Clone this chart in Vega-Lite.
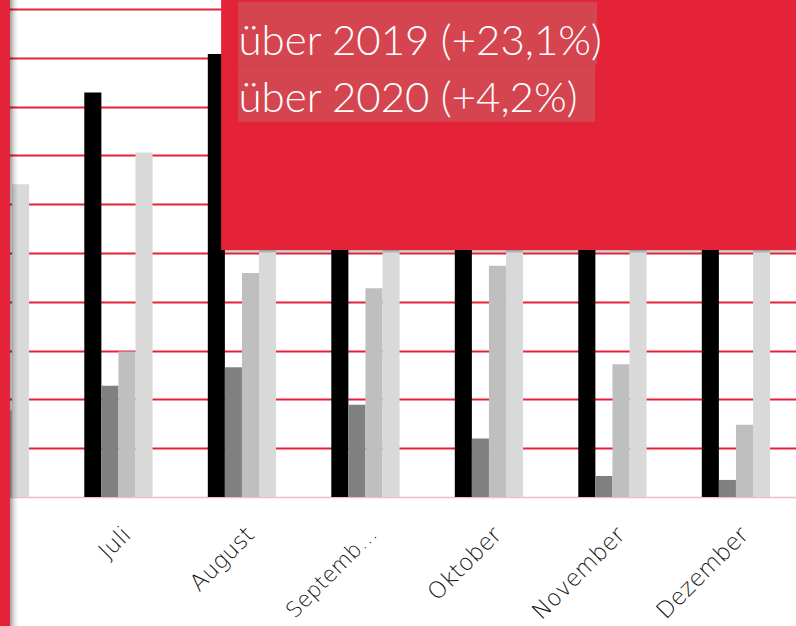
{
  "$schema": "https://vega.github.io/schema/vega-lite/v6.json",
  "width": 796,
  "height": 497,
  "autosize": {"type": "none"},
  "padding": {"left": 0, "top": 0, "right": 0, "bottom": 129},
  "background": "#ffffff",
  "config": {"view": {"stroke": null}},
  "data": {
    "values": [
      {"Monat": "Juni", "Jahr": "2022", "Wert": 78},
      {"Monat": "Juni", "Jahr": "2020", "Wert": 14},
      {"Monat": "Juni", "Jahr": "2021", "Wert": 17.8},
      {"Monat": "Juni", "Jahr": "2019", "Wert": 64.1},
      {"Monat": "Juli", "Jahr": "2022", "Wert": 82.9},
      {"Monat": "Juli", "Jahr": "2020", "Wert": 22.8},
      {"Monat": "Juli", "Jahr": "2021", "Wert": 29.8},
      {"Monat": "Juli", "Jahr": "2019", "Wert": 70.6},
      {"Monat": "August", "Jahr": "2022", "Wert": 90.8},
      {"Monat": "August", "Jahr": "2020", "Wert": 26.6},
      {"Monat": "August", "Jahr": "2021", "Wert": 45.9},
      {"Monat": "August", "Jahr": "2019", "Wert": 76},
      {"Monat": "September", "Jahr": "2022", "Wert": 86},
      {"Monat": "September", "Jahr": "2020", "Wert": 18.9},
      {"Monat": "September", "Jahr": "2021", "Wert": 42.8},
      {"Monat": "September", "Jahr": "2019", "Wert": 72},
      {"Monat": "Oktober", "Jahr": "2022", "Wert": 84},
      {"Monat": "Oktober", "Jahr": "2020", "Wert": 12.0},
      {"Monat": "Oktober", "Jahr": "2021", "Wert": 47.4},
      {"Monat": "Oktober", "Jahr": "2019", "Wert": 70},
      {"Monat": "November", "Jahr": "2022", "Wert": 80},
      {"Monat": "November", "Jahr": "2020", "Wert": 4.3},
      {"Monat": "November", "Jahr": "2021", "Wert": 27.2},
      {"Monat": "November", "Jahr": "2019", "Wert": 62},
      {"Monat": "Dezember", "Jahr": "2022", "Wert": 78},
      {"Monat": "Dezember", "Jahr": "2020", "Wert": 3.5},
      {"Monat": "Dezember", "Jahr": "2021", "Wert": 14.8},
      {"Monat": "Dezember", "Jahr": "2019", "Wert": 60}
    ]
  },
  "layer": [
    {
      "mark": {"type": "bar", "clip": true},
      "encoding": {
        "x": {
          "field": "Monat",
          "type": "nominal",
          "sort": null,
          "scale": {
            "domain": ["Juni", "Juli", "August", "September", "Oktober", "November", "Dezember", "Januar"],
            "range": [-39.2, 893.6],
            "paddingInner": 0.447,
            "paddingOuter": 0
          },
          "axis": {
            "title": null,
            "domain": false,
            "ticks": false,
            "labelAngle": -45,
            "labelAlign": "right",
            "labelBaseline": "top",
            "labelFont": "DejaVu Sans",
            "labelFontWeight": 200,
            "labelFontSize": {"condition": {"test": "datum.value == 'September'", "value": 21.5}, "value": 23},
            "labelColor": "#111111",
            "labelOffset": 1,
            "labelPadding": 26,
            "labelLimit": 0,
            "labelOverlap": false,
            "labelExpr": "datum.value == 'September' ? 'Septemb…' : (datum.value == 'Januar' ? '' : datum.label)"
          }
        },
        "xOffset": {
          "field": "Jahr",
          "type": "nominal",
          "scale": {"domain": ["2022", "2020", "2021", "2019"], "paddingInner": 0, "paddingOuter": 0}
        },
        "y": {
          "field": "Wert",
          "type": "quantitative",
          "scale": {"domain": [0, 101.844], "nice": false, "zero": true},
          "axis": {
            "title": null,
            "domain": false,
            "ticks": false,
            "labels": false,
            "grid": true,
            "values": [0, 10, 20, 30, 40, 50, 60, 70, 80, 90, 100],
            "gridColor": {"condition": {"test": "datum.value === 0", "value": "#F2BCC2"}, "value": "#E42338"},
            "gridWidth": {"condition": {"test": "datum.value === 0", "value": 1.5}, "value": 1.8}
          }
        },
        "y2": {"datum": 0},
        "color": {
          "field": "Jahr",
          "type": "nominal",
          "scale": {"domain": ["2022", "2020", "2021", "2019"], "range": ["#000000", "#808080", "#BFBFBF", "#D9D9D9"]},
          "legend": null
        }
      }
    },
    {
      "data": {"values": [{}]},
      "mark": {"type": "rect", "color": "#E42338"},
      "encoding": {
        "x": {"datum": "Juni", "bandPosition": 0},
        "x2": {"datum": "Juni", "bandPosition": 0.72},
        "y": {"datum": 101.844},
        "y2": {"datum": -26.44}
      }
    },
    {
      "data": {"values": [{}]},
      "mark": {
        "type": "rect",
        "color": {
          "gradient": "linear", "x1": 0, "x2": 1, "y1": 0, "y2": 0,
          "stops": [
            {"offset": 0, "color": "rgba(0,0,0,0.38)"},
            {"offset": 0.5, "color": "rgba(0,0,0,0.12)"},
            {"offset": 1, "color": "rgba(0,0,0,0)"}
          ]
        }
      },
      "encoding": {
        "x": {"datum": "Juni", "bandPosition": 0.72},
        "x2": {"datum": "Juni", "bandPosition": 0.84},
        "y": {"datum": 101.844},
        "y2": {"datum": -26.44}
      }
    },
    {
      "data": {"values": [{}]},
      "mark": {
        "type": "rect",
        "clip": true,
        "color": {
          "gradient": "linear", "x1": 0, "x2": 0, "y1": 0, "y2": 1,
          "stops": [
            {"offset": 0, "color": "rgba(0,0,0,0.3)"},
            {"offset": 1, "color": "rgba(0,0,0,0)"}
          ]
        }
      },
      "encoding": {
        "x": {"datum": "August", "bandPosition": 0.195},
        "x2": {"datum": "Dezember", "bandPosition": 2},
        "y": {"datum": 50.61},
        "y2": {"datum": 49.9}
      }
    },
    {
      "data": {"values": [{}]},
      "mark": {"type": "rect", "clip": true, "color": "#E42338"},
      "encoding": {
        "x": {"datum": "August", "bandPosition": 0.195},
        "x2": {"datum": "Dezember", "bandPosition": 2},
        "y": {"datum": 50.61},
        "y2": {"datum": 103}
      }
    },
    {
      "data": {"values": [{}]},
      "mark": {"type": "rect", "color": "#D4454F"},
      "encoding": {
        "x": {"datum": "August", "bandPosition": 0.444},
        "x2": {"datum": "November", "bandPosition": 0.274},
        "y": {"datum": 101.5},
        "y2": {"datum": 88.67}
      }
    },
    {
      "data": {"values": [{}]},
      "mark": {"type": "rect", "color": "#D4454F"},
      "encoding": {
        "x": {"datum": "August", "bandPosition": 0.444},
        "x2": {"datum": "November", "bandPosition": 0.245},
        "y": {"datum": 88.67},
        "y2": {"datum": 76.9}
      }
    },
    {
      "data": {"values": [{}]},
      "mark": {"type": "text", "align": "left", "baseline": "alphabetic", "font": "Lato", "fontWeight": 300, "fontSize": 42, "color": "#ffffff"},
      "encoding": {
        "x": {"datum": "August", "bandPosition": 0.45},
        "y": {"datum": 90.57},
        "text": {"value": "über 2019 (+23,1%)"}
      }
    },
    {
      "data": {"values": [{}]},
      "mark": {"type": "text", "align": "left", "baseline": "alphabetic", "font": "Lato", "fontWeight": 300, "fontSize": 42, "color": "#ffffff"},
      "encoding": {
        "x": {"datum": "August", "bandPosition": 0.45},
        "y": {"datum": 78.95},
        "text": {"value": "über 2020 (+4,2%)"}
      }
    }
  ]
}
